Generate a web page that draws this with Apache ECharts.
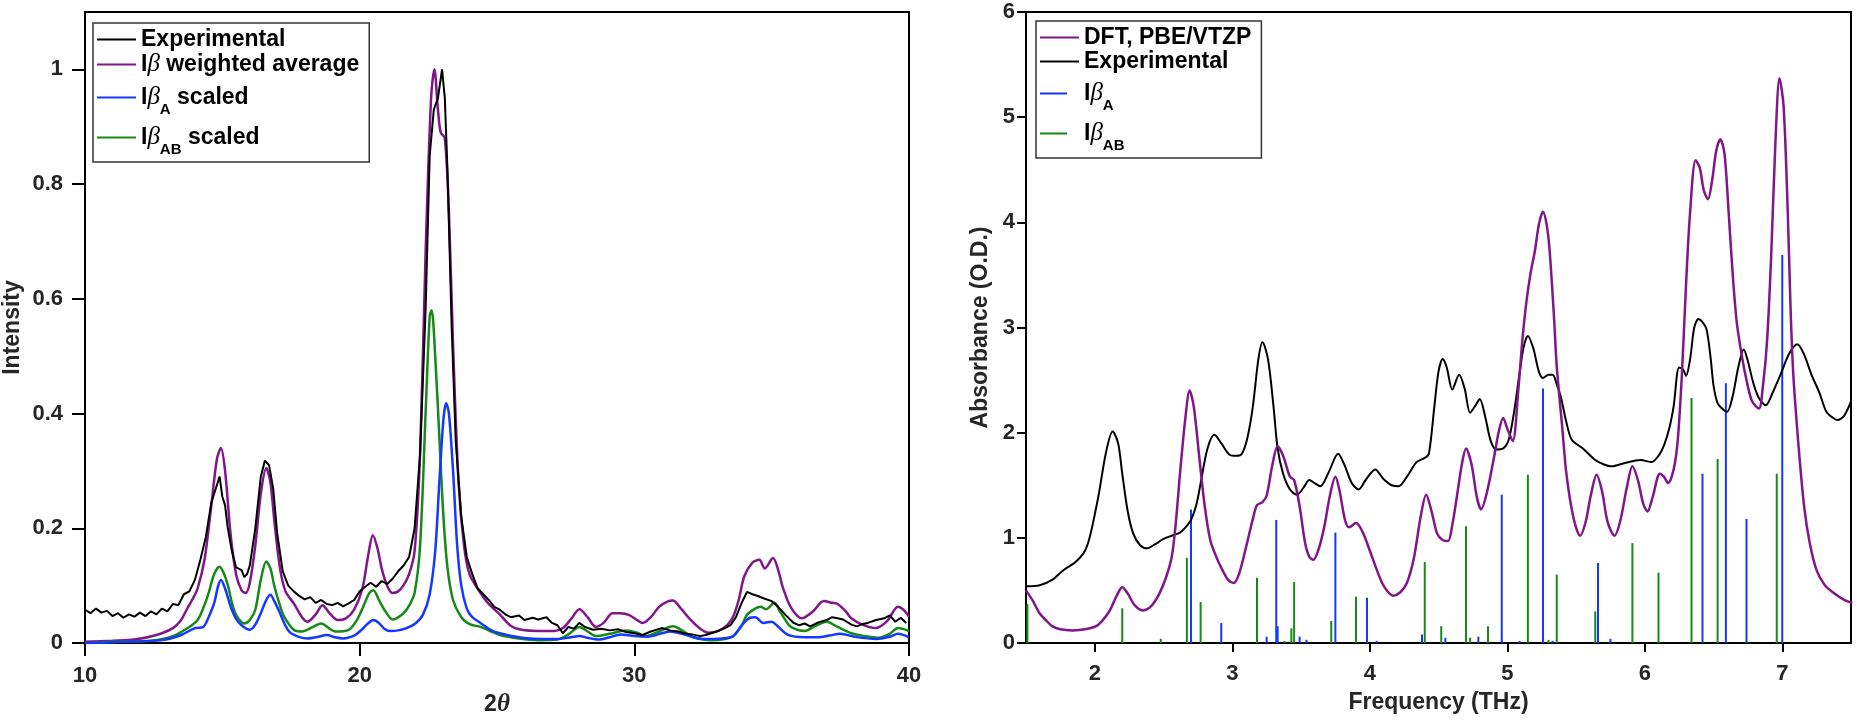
<!DOCTYPE html>
<html>
<head>
<meta charset="utf-8">
<script src="https://cdn.jsdelivr.net/npm/echarts@6/dist/echarts.min.js"></script>
<style>
html, body { margin: 0; padding: 0; background: #fff; }
#chart { width: 1857px; height: 724px; }
</style>
</head>
<body>
<div id="chart"></div>
<script>
// left panel: XRD, [2theta, intensity]
var xrdExperimental = [[10,0.058],[10.2,0.052],[10.4,0.060],[10.6,0.053],[10.8,0.056],[11.0,0.047],[11.2,0.052],[11.4,0.044],[11.6,0.050],[11.8,0.046],[12.0,0.053],[12.2,0.047],[12.4,0.055],[12.6,0.050],[12.8,0.060],[13.0,0.055],[13.2,0.068],[13.4,0.066],[13.6,0.085],[13.8,0.090],[14.0,0.110],[14.2,0.145],[14.4,0.185],[14.6,0.245],[14.7,0.26],[14.8,0.275],[14.9,0.29],[15.0,0.255],[15.1,0.24],[15.2,0.20],[15.35,0.16],[15.5,0.132],[15.7,0.127],[15.8,0.115],[15.9,0.120],[16.0,0.135],[16.2,0.20],[16.4,0.29],[16.55,0.318],[16.7,0.31],[16.85,0.27],[17.0,0.19],[17.2,0.125],[17.4,0.100],[17.6,0.090],[17.8,0.082],[18.0,0.076],[18.2,0.080],[18.4,0.070],[18.6,0.075],[18.8,0.068],[19.0,0.066],[19.2,0.070],[19.4,0.064],[19.6,0.069],[19.8,0.075],[20.0,0.090],[20.2,0.098],[20.4,0.105],[20.6,0.098],[20.8,0.108],[21.0,0.103],[21.2,0.112],[21.4,0.125],[21.6,0.135],[21.8,0.150],[22.0,0.20],[22.2,0.33],[22.4,0.58],[22.55,0.85],[22.7,0.93],[22.85,0.95],[23.0,1.0],[23.1,0.95],[23.2,0.82],[23.35,0.55],[23.5,0.35],[23.7,0.22],[23.9,0.15],[24.1,0.12],[24.3,0.095],[24.5,0.085],[24.7,0.075],[24.9,0.063],[25.1,0.058],[25.3,0.050],[25.5,0.045],[25.8,0.048],[26.0,0.040],[26.3,0.044],[26.5,0.041],[26.8,0.045],[27.0,0.035],[27.2,0.031],[27.4,0.017],[27.6,0.028],[27.8,0.025],[28.0,0.035],[28.2,0.028],[28.5,0.023],[28.8,0.025],[29.1,0.022],[29.4,0.024],[29.7,0.019],[30.0,0.017],[30.3,0.014],[30.6,0.020],[31.0,0.026],[31.3,0.022],[31.6,0.020],[31.8,0.017],[32.1,0.015],[32.4,0.012],[32.6,0.014],[33.0,0.020],[33.3,0.026],[33.5,0.031],[33.7,0.045],[33.9,0.069],[34.1,0.089],[34.3,0.085],[34.5,0.082],[34.7,0.078],[35.0,0.073],[35.2,0.065],[35.5,0.049],[35.8,0.035],[36.0,0.031],[36.2,0.034],[36.4,0.029],[36.7,0.036],[37.0,0.040],[37.2,0.045],[37.4,0.043],[37.6,0.041],[37.9,0.032],[38.1,0.029],[38.3,0.033],[38.5,0.035],[38.8,0.040],[39.1,0.043],[39.3,0.048],[39.5,0.037],[39.7,0.044],[39.9,0.035]];

var xrdWeighted = [[10,0.002],[11,0.004],[11.8,0.006],[12.6,0.014],[13.2,0.026],[13.5,0.040],[13.7,0.058],[13.9,0.075],[14.1,0.095],[14.35,0.145],[14.6,0.24],[14.8,0.32],[14.95,0.34],[15.1,0.30],[15.3,0.19],[15.5,0.12],[15.7,0.092],[15.85,0.087],[16.0,0.105],[16.2,0.17],[16.4,0.26],[16.6,0.305],[16.75,0.28],[16.9,0.21],[17.1,0.13],[17.3,0.09],[17.6,0.069],[17.9,0.045],[18.1,0.037],[18.4,0.050],[18.65,0.066],[18.9,0.052],[19.2,0.040],[19.5,0.043],[19.8,0.058],[20.1,0.095],[20.3,0.15],[20.48,0.188],[20.65,0.165],[20.8,0.13],[21.0,0.10],[21.2,0.087],[21.4,0.090],[21.6,0.101],[21.8,0.12],[22.0,0.16],[22.2,0.33],[22.4,0.68],[22.6,0.95],[22.72,1.0],[22.85,0.93],[22.95,0.89],[23.1,0.88],[23.25,0.75],[23.4,0.52],[23.6,0.28],[23.8,0.17],[24.0,0.12],[24.4,0.087],[24.7,0.068],[25.1,0.050],[25.5,0.030],[25.9,0.023],[26.5,0.021],[27.1,0.021],[27.4,0.026],[27.7,0.042],[28.0,0.059],[28.3,0.045],[28.6,0.028],[28.9,0.036],[29.2,0.052],[29.5,0.052],[29.8,0.049],[30.1,0.040],[30.3,0.035],[30.6,0.045],[30.9,0.063],[31.2,0.072],[31.4,0.074],[31.7,0.060],[32.0,0.043],[32.4,0.025],[32.7,0.018],[33.1,0.022],[33.4,0.032],[33.6,0.046],[33.8,0.075],[34.0,0.116],[34.3,0.140],[34.55,0.145],[34.75,0.130],[35.05,0.148],[35.25,0.125],[35.4,0.098],[35.7,0.062],[36.1,0.043],[36.5,0.055],[36.9,0.073],[37.2,0.070],[37.4,0.068],[37.7,0.055],[37.9,0.043],[38.3,0.032],[38.8,0.026],[39.2,0.038],[39.6,0.063],[39.8,0.058],[40,0.046]];

var xrdScaledAB = [[10,0.0],[11,0.002],[12.4,0.004],[13.2,0.012],[13.8,0.028],[14.1,0.040],[14.3,0.060],[14.5,0.087],[14.7,0.12],[14.9,0.133],[15.05,0.122],[15.2,0.101],[15.35,0.07],[15.5,0.049],[15.8,0.034],[16.0,0.040],[16.2,0.058],[16.4,0.11],[16.6,0.142],[16.75,0.13],[16.9,0.098],[17.1,0.065],[17.25,0.046],[17.6,0.023],[17.9,0.020],[18.3,0.028],[18.6,0.034],[18.9,0.025],[19.1,0.020],[19.6,0.023],[19.9,0.040],[20.1,0.060],[20.35,0.087],[20.5,0.092],[20.7,0.075],[20.9,0.058],[21.2,0.041],[21.6,0.052],[21.8,0.065],[22.0,0.087],[22.2,0.17],[22.4,0.40],[22.55,0.57],[22.62,0.58],[22.75,0.50],[22.9,0.36],[23.05,0.22],[23.2,0.13],[23.4,0.075],[23.7,0.045],[24.0,0.033],[24.4,0.028],[24.8,0.020],[25.1,0.014],[25.8,0.008],[26.5,0.005],[27.2,0.006],[27.6,0.015],[28.0,0.028],[28.3,0.020],[28.6,0.012],[29.1,0.016],[29.7,0.022],[30.1,0.018],[30.4,0.012],[30.9,0.020],[31.4,0.029],[31.8,0.020],[32.1,0.011],[32.8,0.005],[33.3,0.007],[33.6,0.012],[33.9,0.030],[34.1,0.049],[34.4,0.060],[34.6,0.063],[34.8,0.059],[35.1,0.070],[35.3,0.055],[35.5,0.040],[35.7,0.028],[36.2,0.021],[36.6,0.030],[37.0,0.037],[37.4,0.028],[37.9,0.017],[38.4,0.012],[38.9,0.009],[39.3,0.016],[39.6,0.026],[40,0.021]];

var xrdScaledA = [[10,0.0],[11.5,0.002],[12.8,0.005],[13.5,0.014],[14.0,0.026],[14.3,0.028],[14.5,0.045],[14.7,0.069],[14.85,0.10],[14.95,0.11],[15.1,0.095],[15.3,0.064],[15.5,0.042],[15.7,0.031],[16.0,0.023],[16.2,0.032],[16.4,0.052],[16.6,0.075],[16.75,0.084],[16.9,0.072],[17.1,0.052],[17.3,0.030],[17.5,0.017],[18.1,0.008],[18.5,0.011],[18.8,0.014],[19.1,0.010],[19.4,0.008],[19.8,0.013],[20.0,0.02],[20.3,0.034],[20.5,0.040],[20.7,0.035],[20.9,0.025],[21.1,0.021],[21.4,0.022],[21.7,0.026],[22.0,0.033],[22.3,0.049],[22.55,0.085],[22.75,0.16],[22.9,0.28],[23.05,0.39],[23.15,0.418],[23.25,0.40],[23.4,0.30],[23.55,0.17],[23.7,0.10],[23.9,0.06],[24.1,0.045],[24.4,0.035],[24.8,0.022],[25.1,0.017],[25.8,0.010],[26.5,0.007],[27.2,0.007],[27.7,0.010],[28.0,0.012],[28.3,0.009],[28.7,0.006],[29.1,0.010],[29.5,0.015],[30.0,0.012],[30.5,0.011],[31.0,0.017],[31.3,0.020],[31.8,0.015],[32.5,0.007],[33.2,0.008],[33.6,0.012],[33.9,0.030],[34.2,0.044],[34.4,0.045],[34.7,0.035],[35.0,0.037],[35.2,0.030],[35.6,0.014],[36.2,0.010],[36.7,0.010],[37.1,0.013],[37.5,0.016],[38.0,0.011],[38.8,0.007],[39.3,0.011],[39.6,0.016],[40,0.010]];

// right panel: THz absorbance, [frequency, O.D.]
var thzDft = [[1.5,0.50],[1.55,0.40],[1.60,0.28],[1.65,0.21],[1.69,0.16],[1.75,0.13],[1.84,0.12],[1.93,0.13],[2.01,0.16],[2.06,0.22],[2.11,0.31],[2.16,0.45],[2.20,0.53],[2.24,0.47],[2.29,0.36],[2.35,0.31],[2.41,0.35],[2.47,0.47],[2.52,0.63],[2.56,0.82],[2.59,1.15],[2.62,1.61],[2.66,2.15],[2.69,2.40],[2.72,2.25],[2.76,1.77],[2.80,1.30],[2.84,0.98],[2.89,0.80],[2.93,0.69],[2.97,0.60],[3.01,0.57],[3.05,0.66],[3.10,0.91],[3.15,1.18],[3.18,1.31],[3.22,1.34],[3.25,1.40],[3.29,1.68],[3.33,1.87],[3.37,1.78],[3.42,1.58],[3.45,1.55],[3.49,1.30],[3.53,0.95],[3.56,0.82],[3.59,0.79],[3.63,0.90],[3.67,1.11],[3.71,1.40],[3.75,1.58],[3.78,1.45],[3.82,1.17],[3.85,1.10],[3.90,1.14],[3.95,1.05],[4.00,0.88],[4.05,0.70],[4.09,0.57],[4.13,0.49],[4.17,0.45],[4.22,0.48],[4.27,0.57],[4.32,0.80],[4.37,1.20],[4.41,1.41],[4.45,1.25],[4.49,1.04],[4.53,0.98],[4.57,0.97],[4.60,1.12],[4.63,1.36],[4.67,1.70],[4.70,1.85],[4.74,1.70],[4.78,1.38],[4.81,1.27],[4.85,1.42],[4.90,1.74],[4.94,2.02],[4.97,2.14],[5.00,2.04],[5.04,1.92],[5.08,2.40],[5.11,2.88],[5.14,3.25],[5.17,3.52],[5.20,3.72],[5.23,3.98],[5.26,4.10],[5.29,3.95],[5.31,3.70],[5.34,3.10],[5.36,2.63],[5.40,2.05],[5.43,1.61],[5.48,1.20],[5.53,1.02],[5.57,1.15],[5.61,1.42],[5.65,1.60],[5.69,1.44],[5.73,1.15],[5.78,1.02],[5.82,1.15],[5.87,1.48],[5.91,1.68],[5.95,1.55],[5.99,1.32],[6.02,1.25],[6.06,1.40],[6.11,1.61],[6.14,1.58],[6.17,1.52],[6.21,1.65],[6.24,1.93],[6.27,2.55],[6.30,3.40],[6.33,4.10],[6.37,4.59],[6.40,4.52],[6.43,4.30],[6.46,4.22],[6.49,4.40],[6.52,4.68],[6.55,4.79],[6.58,4.65],[6.61,4.10],[6.64,3.50],[6.67,3.04],[6.71,2.70],[6.74,2.50],[6.78,2.30],[6.83,2.23],[6.86,2.45],[6.89,2.88],[6.92,3.70],[6.95,4.75],[6.98,5.37],[7.01,5.10],[7.04,4.10],[7.06,3.20],[7.08,2.56],[7.12,1.85],[7.16,1.29],[7.20,0.95],[7.25,0.69],[7.31,0.55],[7.38,0.47],[7.45,0.41],[7.51,0.38]];

var thzExperimental = [[1.5,0.54],[1.6,0.55],[1.69,0.60],[1.77,0.69],[1.86,0.77],[1.93,0.88],[1.97,1.04],[2.03,1.42],[2.08,1.80],[2.13,2.01],[2.17,1.90],[2.20,1.61],[2.24,1.25],[2.28,1.04],[2.33,0.93],[2.38,0.90],[2.44,0.94],[2.50,0.99],[2.56,1.02],[2.62,1.05],[2.66,1.10],[2.70,1.17],[2.74,1.32],[2.77,1.52],[2.82,1.85],[2.87,1.98],[2.92,1.90],[2.98,1.79],[3.03,1.78],[3.07,1.80],[3.11,1.95],[3.15,2.25],[3.19,2.70],[3.22,2.86],[3.26,2.70],[3.30,2.25],[3.33,1.85],[3.37,1.61],[3.42,1.46],[3.47,1.41],[3.52,1.48],[3.56,1.55],[3.60,1.52],[3.64,1.49],[3.70,1.62],[3.77,1.80],[3.82,1.68],[3.87,1.52],[3.92,1.46],[3.97,1.55],[4.04,1.65],[4.10,1.56],[4.16,1.50],[4.21,1.49],[4.27,1.58],[4.34,1.72],[4.40,1.76],[4.43,1.80],[4.47,2.25],[4.50,2.58],[4.53,2.70],[4.56,2.62],[4.60,2.41],[4.65,2.55],[4.69,2.42],[4.73,2.19],[4.77,2.26],[4.80,2.32],[4.84,2.15],[4.88,1.92],[4.92,1.84],[4.97,1.85],[5.01,1.93],[5.05,2.20],[5.09,2.57],[5.12,2.82],[5.15,2.92],[5.19,2.80],[5.23,2.58],[5.26,2.52],[5.30,2.55],[5.33,2.55],[5.36,2.46],[5.39,2.34],[5.43,2.10],[5.47,1.93],[5.55,1.85],[5.64,1.74],[5.70,1.70],[5.76,1.68],[5.85,1.71],[5.97,1.74],[6.05,1.72],[6.10,1.78],[6.14,1.88],[6.18,2.05],[6.21,2.25],[6.25,2.62],[6.28,2.60],[6.30,2.54],[6.33,2.70],[6.36,3.00],[6.39,3.08],[6.42,3.05],[6.45,2.98],[6.48,2.70],[6.50,2.45],[6.53,2.28],[6.57,2.22],[6.60,2.20],[6.64,2.35],[6.68,2.62],[6.72,2.79],[6.75,2.68],[6.79,2.47],[6.83,2.33],[6.88,2.26],[6.93,2.38],[6.99,2.56],[7.05,2.75],[7.11,2.84],[7.16,2.74],[7.21,2.56],[7.27,2.38],[7.32,2.20],[7.36,2.15],[7.40,2.12],[7.45,2.16],[7.51,2.33]];

var sticksA = [[2.70,1.27],[2.92,0.19],[3.25,0.06],[3.32,1.17],[3.33,0.16],[3.49,0.06],[3.54,0.03],[3.75,1.05],[3.98,0.43],[4.05,0.02],[4.38,0.08],[4.55,0.05],[4.79,0.06],[4.96,1.41],[5.09,0.02],[5.26,2.42],[5.33,0.02],[5.66,0.76],[5.75,0.04],[6.42,1.61],[6.59,2.47],[6.74,1.18],[7.00,3.69]];

var sticksAB = [[1.51,0.37],[2.20,0.33],[2.48,0.04],[2.67,0.81],[2.77,0.39],[3.18,0.62],[3.38,0.02],[3.43,0.14],[3.45,0.58],[3.72,0.21],[3.90,0.44],[4.40,0.77],[4.52,0.16],[4.70,1.11],[4.73,0.05],[4.86,0.16],[5.15,1.60],[5.26,0.45],[5.30,0.03],[5.36,0.65],[5.64,0.30],[5.91,0.95],[6.10,0.67],[6.34,2.33],[6.53,1.75],[6.96,1.61]];

var intensityTicks = [0, 0.2, 0.4, 0.6, 0.8, 1];
var freqTicks = [2, 3, 4, 5, 6, 7];

var PURPLE = '#80168a', BLUE = '#1438ff', GREEN = '#168a16';
var font = '"Liberation Sans", Arial, Helvetica, sans-serif';

var rich = {
    n: { fontFamily: font, fontWeight: 'bold', fontSize: 23, lineHeight: 28, color: '#000' },
    g: { fontFamily: '"Liberation Serif", "DejaVu Serif", serif', fontStyle: 'italic', fontSize: 25, lineHeight: 28, color: '#000' },
    s: { fontFamily: font, fontWeight: 'bold', fontSize: 15, lineHeight: 15, padding: [24, 0, 0, 0], color: '#000' }
};
var legendText = {
    'Experimental': '{n|Experimental}',
    'Iβ weighted average': '{n|I}{g|β}{n| weighted average}',
    'IβA scaled': '{n|I}{g|β}{s|A}{n| scaled}',
    'IβAB scaled': '{n|I}{g|β}{s|AB}{n| scaled}',
    'DFT, PBE/VTZP': '{n|DFT, PBE/VTZP}',
    'IβA': '{n|I}{g|β}{s|A}',
    'IβAB': '{n|I}{g|β}{s|AB}'
};
// shorter sample line for the stick series, same slot width
var shortIcon = 'path://M0,0L27,0L27,2L0,2Z M39,0L39,2';

function legendBox(left, top, names) {
    return {
        orient: 'vertical',
        left: left,
        top: top,
        data: names,
        icon: 'rect',
        itemWidth: 39,
        itemHeight: 2,
        itemGap: 1,
        padding: [5, 10, 5, 4],
        borderColor: '#333',
        borderWidth: 1.5,
        backgroundColor: '#fff',
        formatter: function (name) { return legendText[name]; },
        textStyle: { rich: rich },
        selectedMode: false
    };
}

function axisBase(tickLen, labelMargin) {
    return {
        axisLine: { show: true, lineStyle: { color: '#000', width: 2 } },
        axisTick: { show: true, length: tickLen, lineStyle: { color: '#000', width: 2 } },
        axisLabel: { color: '#262626', fontFamily: font, fontWeight: 'bold', fontSize: 22, margin: labelMargin },
        splitLine: { show: false },
        nameLocation: 'middle',
        nameTextStyle: { color: '#262626', fontFamily: font, fontWeight: 'bold', fontSize: 23 }
    };
}

function ax(base, extra) {
    var o = JSON.parse(JSON.stringify(base));
    for (var k in extra) {
        if (typeof extra[k] === 'object' && o[k] && !Array.isArray(extra[k])) {
            for (var j in extra[k]) o[k][j] = extra[k][j];
        } else {
            o[k] = extra[k];
        }
    }
    return o;
}

var leftAxis = axisBase(13, 22);
var rightAxis = axisBase(9, 11);

var chart = echarts.init(document.getElementById('chart'));

var option = {
    animation: false,
    backgroundColor: '#fff',
    grid: [
        { left: 84, right: 948, top: 12, bottom: 81, show: true, borderColor: '#000', borderWidth: 2, backgroundColor: 'transparent' },
        { left: 1026, right: 6, top: 12, bottom: 81, show: true, borderColor: '#000', borderWidth: 2, backgroundColor: 'transparent' }
    ],
    legend: [
        legendBox(93, 23, ['Experimental', 'Iβ weighted average', 'IβA scaled', 'IβAB scaled']),
        legendBox(1036, 21, ['DFT, PBE/VTZP', 'Experimental', { name: 'IβA', icon: shortIcon }, { name: 'IβAB', icon: shortIcon }])
    ],
    xAxis: [
        ax(leftAxis, {
            type: 'value', gridIndex: 0, min: 10, max: 40, interval: 10,
            name: '{a|2}{b|θ}', nameGap: 48,
            nameTextStyle: { rich: {
                a: { fontFamily: font, fontWeight: 'bold', fontSize: 23, color: '#262626' },
                b: { fontFamily: '"Liberation Serif", serif', fontStyle: 'italic', fontWeight: 'bold', fontSize: 25, color: '#262626' }
            } }
        }),
        ax(rightAxis, {
            type: 'value', gridIndex: 1, min: 1.5, max: 7.5,
            name: 'Frequency (THz)', nameGap: 48,
            axisTick: { customValues: freqTicks },
            axisLabel: { customValues: freqTicks, margin: 20 }
        })
    ],
    yAxis: [
        ax(leftAxis, {
            type: 'value', gridIndex: 0, min: 0, max: 1.1,
            name: 'Intensity', nameGap: 61,
            axisTick: { customValues: intensityTicks },
            axisLabel: { customValues: intensityTicks, formatter: function (v) { return String(+v.toFixed(1)); } }
        }),
        ax(rightAxis, {
            type: 'value', gridIndex: 1, min: 0, max: 6, interval: 1,
            name: 'Absorbance (O.D.)', nameGap: 34
        })
    ],
    series: [
        { name: 'Iβ weighted average', type: 'line', xAxisIndex: 0, yAxisIndex: 0, data: xrdWeighted,
          smooth: 0.3, symbol: 'none', lineStyle: { color: PURPLE, width: 2.5 }, itemStyle: { color: PURPLE } },
        { name: 'IβAB scaled', type: 'line', xAxisIndex: 0, yAxisIndex: 0, data: xrdScaledAB,
          smooth: 0.3, symbol: 'none', lineStyle: { color: GREEN, width: 2.5 }, itemStyle: { color: GREEN } },
        { name: 'IβA scaled', type: 'line', xAxisIndex: 0, yAxisIndex: 0, data: xrdScaledA,
          smooth: 0.3, symbol: 'none', lineStyle: { color: BLUE, width: 2.5 }, itemStyle: { color: BLUE } },
        { name: 'Experimental', type: 'line', xAxisIndex: 0, yAxisIndex: 0, data: xrdExperimental,
          symbol: 'none', lineStyle: { color: '#000', width: 2 }, itemStyle: { color: '#000' } },

        { name: 'IβAB', type: 'bar', xAxisIndex: 1, yAxisIndex: 1, data: sticksAB,
          barWidth: 2, barGap: '-100%', itemStyle: { color: GREEN } },
        { name: 'IβA', type: 'bar', xAxisIndex: 1, yAxisIndex: 1, data: sticksA,
          barWidth: 2, barGap: '-100%', itemStyle: { color: BLUE } },
        { name: 'Experimental', type: 'line', xAxisIndex: 1, yAxisIndex: 1, data: thzExperimental,
          smooth: 0.3, symbol: 'none', lineStyle: { color: '#000', width: 2 }, itemStyle: { color: '#000' } },
        { name: 'DFT, PBE/VTZP', type: 'line', xAxisIndex: 1, yAxisIndex: 1, data: thzDft,
          smooth: 0.3, symbol: 'none', lineStyle: { color: PURPLE, width: 2.5 }, itemStyle: { color: PURPLE } }
    ]
};

chart.setOption(option);
</script>
</body>
</html>
